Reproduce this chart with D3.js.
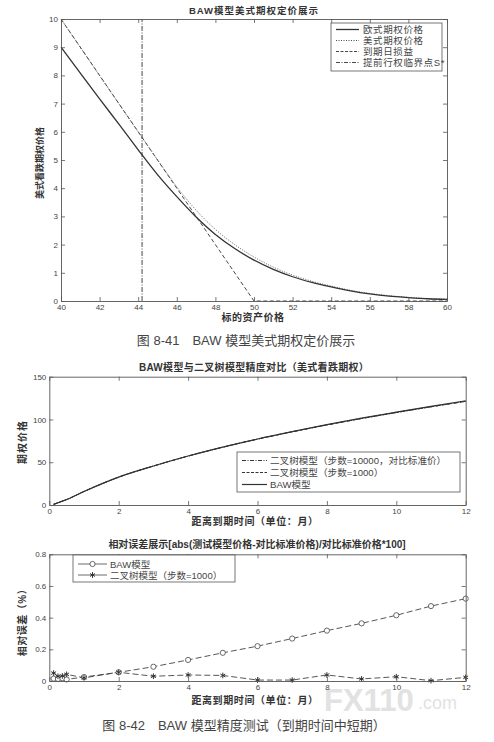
<!DOCTYPE html>
<html>
<head>
<meta charset="utf-8">
<script src="https://cdn.jsdelivr.net/npm/d3@7"></script>
<style>
  body { margin: 0; background: #fff; }
  svg text { font-family: "Liberation Sans", "Noto Sans CJK SC", sans-serif; }
</style>
</head>
<body>
<div id="chart-area"></div>
<script>
// ---- data ----
// fig 8-41
var spotPrices = [40,41,42,43,44,44.2,45,46,47,48,49,50,51,52,53,54,55,56,57,58,59,60];
var europeanPut = [9.00,8.08,7.17,6.27,5.36,5.18,4.48,3.70,2.98,2.36,1.86,1.45,1.12,0.86,0.66,0.50,0.36,0.25,0.17,0.12,0.08,0.06];
var americanSpot = [40,44.2,45,46,47,48,49,50,51,52,53,54,55,56,57,58,59,60];
var americanPut = [10,5.80,5.01,4.05,3.22,2.54,2.00,1.56,1.20,0.92,0.70,0.53,0.38,0.27,0.19,0.13,0.09,0.06];
var payoffSpot = [40,50,60];
var payoffValue = [10,0,0];
var criticalPrice = 44.2;
var spotTicks = [40,42,44,46,48,50,52,54,56,58,60];
var putTicks = [0,1,2,3,4,5,6,7,8,9,10];

// fig 8-42 (months to expiry)
var maturities = [0.125,0.25,0.375,0.5,1,2,3,4,5,6,7,8,9,10,11,12];
var priceBin10000 = [0.8,2.6,4.5,6.4,15.8,32.6,45.5,57.2,67.6,77.0,85.6,93.6,101.1,108.1,114.8,121.2];
var priceBin1000 = [0.8,2.6,4.5,6.4,15.8,32.6,45.5,57.2,67.6,77.0,85.6,93.6,101.1,108.1,114.8,121.2];
var priceBAW = [0.8,2.6,4.5,6.4,15.8,32.6,45.6,57.3,67.7,77.2,85.8,93.9,101.5,108.5,115.3,121.8];
var errBAW = [0.015,0.013,0.018,0.010,0.025,0.055,0.090,0.133,0.178,0.220,0.268,0.318,0.364,0.415,0.473,0.520];
var errBin1000 = [0.050,0.030,0.032,0.042,0.020,0.055,0.030,0.038,0.035,0.006,0.006,0.038,0.013,0.027,0.002,0.023];
var monthTicks = [0,2,4,6,8,10,12];
var priceTicks = [0,50,100,150];
var errTicks = [0,0.2,0.4,0.6,0.8];

var W = 494, H = 742;
var ink = "#333", axisInk = "#555";

var svg = d3.select("#chart-area").append("svg")
  .attr("width", W)
  .attr("height", H);

// MATLAB style box with inward ticks on all four sides
function drawBox(x, y, xt, yt, xf, yf) {
  var r = x.range(), b = y.range();
  var g = svg.append("g");
  g.append("g").attr("transform", "translate(0," + b[0] + ")")
    .call(d3.axisBottom(x).tickValues(xt).tickSize(-4).tickSizeOuter(0).tickPadding(3).tickFormat(xf));
  g.append("g").attr("transform", "translate(0," + b[1] + ")")
    .call(d3.axisTop(x).tickValues(xt).tickSize(-4).tickSizeOuter(0).tickFormat(""));
  g.append("g").attr("transform", "translate(" + r[0] + ",0)")
    .call(d3.axisLeft(y).tickValues(yt).tickSize(-4).tickSizeOuter(0).tickPadding(3).tickFormat(yf));
  g.append("g").attr("transform", "translate(" + r[1] + ",0)")
    .call(d3.axisRight(y).tickValues(yt).tickSize(-4).tickSizeOuter(0).tickFormat(""));
  g.selectAll("path.domain").attr("stroke", axisInk).attr("stroke-width", 0.9);
  g.selectAll(".tick line").attr("stroke", axisInk).attr("stroke-width", 0.8);
  g.selectAll(".tick text").attr("font-size", 8).attr("fill", "#444")
    .attr("font-family", "Liberation Sans");
  return g;
}

function label(txt, x, y, size, opts) {
  opts = opts || {};
  var t = svg.append("text")
    .attr("x", x).attr("y", y)
    .attr("text-anchor", opts.anchor || "middle")
    .attr("dominant-baseline", "central")
    .attr("font-size", size)
    .attr("font-weight", opts.weight || "bold")
    .attr("fill", opts.fill || ink)
    .text(txt);
  if (opts.rotate) t.attr("transform", "rotate(-90," + x + "," + y + ")");
  if (opts.family) t.attr("font-family", opts.family);
  if (opts.spacing) t.attr("letter-spacing", opts.spacing);
  return t;
}

function legendBox(x0, y0, x1, y1) {
  svg.append("rect").attr("x", x0).attr("y", y0)
    .attr("width", x1 - x0).attr("height", y1 - y0)
    .attr("fill", "#fff").attr("stroke", axisInk).attr("stroke-width", 0.8);
}

// watermark sits under the chart text
svg.append("text").attr("x", 324).attr("y", 711)
  .attr("font-size", 31).attr("font-weight", "bold").attr("fill", "#ddd").attr("opacity", 0.85)
  .attr("font-family", "Liberation Sans").text("FX110");
svg.append("text").attr("x", 418).attr("y", 709)
  .attr("font-size", 18).attr("fill", "#ddd").attr("opacity", 0.85)
  .attr("font-family", "Liberation Sans").text(".com");

// ================= fig 8-41 =================
var x1 = d3.scaleLinear().domain([40, 60]).range([61, 447]);
var y1 = d3.scaleLinear().domain([0, 10]).range([301, 19]);

var euroLine = d3.line().x(function(d, i){ return x1(spotPrices[i]); })
  .y(function(d){ return y1(d); }).curve(d3.curveMonotoneX);
var amerLine = d3.line().x(function(d, i){ return x1(americanSpot[i]); })
  .y(function(d){ return y1(d); }).curve(d3.curveMonotoneX);
var payLine = d3.line().x(function(d, i){ return x1(payoffSpot[i]); })
  .y(function(d){ return y1(d); });

svg.append("path").datum(payoffValue).attr("d", payLine)
  .attr("fill", "none").attr("stroke", ink).attr("stroke-width", 0.9).attr("stroke-dasharray", "4,2.5");
svg.append("path").datum(americanPut).attr("d", amerLine)
  .attr("fill", "none").attr("stroke", "#555").attr("stroke-width", 0.9).attr("stroke-dasharray", "1,1.5");
svg.append("path").datum(europeanPut).attr("d", euroLine)
  .attr("fill", "none").attr("stroke", ink).attr("stroke-width", 1.3);
svg.append("line")
  .attr("x1", x1(criticalPrice)).attr("x2", x1(criticalPrice))
  .attr("y1", y1(0)).attr("y2", y1(10))
  .attr("stroke", ink).attr("stroke-width", 0.9).attr("stroke-dasharray", "5,1.5,1,1.5");

drawBox(x1, y1, spotTicks, putTicks, d3.format("d"), d3.format("d"));

label("BAW模型美式期权定价展示", 254, 10, 9.5, {spacing: 1});
label("标的资产价格", 253, 317, 10, {spacing: 0.5});
label("美式看跌期权价格", 40, 163, 9, {rotate: true});

legendBox(331, 23, 442, 71);
var leg1 = [
  {t: "欧式期权价格", dash: null, w: 1.3},
  {t: "美式期权价格", dash: "1,1.5", w: 0.9},
  {t: "到期日损益", dash: "3,1.5", w: 0.9},
  {t: "提前行权临界点S*", dash: "4,1.5,1,1.5", w: 0.9}
];
leg1.forEach(function(d, i) {
  var yy = 29.5 + i * 11;
  svg.append("line").attr("x1", 336).attr("x2", 359).attr("y1", yy).attr("y2", yy)
    .attr("stroke", ink).attr("stroke-width", d.w).attr("stroke-dasharray", d.dash);
  label(d.t, 363, yy, 9.5, {anchor: "start", weight: "normal", fill: "#444", spacing: 0.6});
});

label("图 8-41\u3000BAW 模型美式期权定价展示", 246, 340, 13,
  {weight: "normal", fill: "#444", family: "Liberation Serif, Noto Sans CJK SC"});

// ================= fig 8-42 top =================
var x2 = d3.scaleLinear().domain([0, 12]).range([49.3, 465.7]);
var y2 = d3.scaleLinear().domain([0, 150]).range([505, 376.7]);

function priceLine(arr) {
  return d3.line().x(function(d, i){ return x2(maturities[i]); })
    .y(function(d){ return y2(d); }).curve(d3.curveMonotoneX)(arr);
}
svg.append("path").attr("d", priceLine(priceBin10000))
  .attr("fill", "none").attr("stroke", ink).attr("stroke-width", 1).attr("stroke-dasharray", "5,1.5,1,1.5");
svg.append("path").attr("d", priceLine(priceBin1000))
  .attr("fill", "none").attr("stroke", ink).attr("stroke-width", 1).attr("stroke-dasharray", "4,2");
svg.append("path").attr("d", priceLine(priceBAW))
  .attr("fill", "none").attr("stroke", ink).attr("stroke-width", 1.2);

drawBox(x2, y2, monthTicks, priceTicks, d3.format("d"), d3.format("d"));

label("BAW模型与二叉树模型精度对比（美式看跌期权）", 254, 367.5, 10, {spacing: 0.3});
label("距离到期时间（单位：月）", 255, 521, 10, {spacing: 0.6});
label("期权价格", 22, 442, 10, {rotate: true, spacing: 1});

legendBox(237, 452, 460, 492);
var leg2 = [
  {t: "二叉树模型（步数=10000，对比标准价）", dash: "4,1.5,1,1.5", w: 1},
  {t: "二叉树模型（步数=1000）", dash: "3,1.5", w: 1},
  {t: "BAW模型", dash: null, w: 1.2}
];
leg2.forEach(function(d, i) {
  var yy = 460.5 + i * 12;
  svg.append("line").attr("x1", 242).attr("x2", 267).attr("y1", yy).attr("y2", yy)
    .attr("stroke", ink).attr("stroke-width", d.w).attr("stroke-dasharray", d.dash);
  label(d.t, 270, yy, 9.6, {anchor: "start", weight: "normal", fill: "#444"});
});

// ================= fig 8-42 bottom =================
var y3 = d3.scaleLinear().domain([0, 0.8]).range([681, 554.3]);

function errLine(arr) {
  return d3.line().x(function(d, i){ return x2(maturities[i]); })
    .y(function(d){ return y3(d); })(arr);
}
svg.append("path").attr("d", errLine(errBAW))
  .attr("fill", "none").attr("stroke", "#444").attr("stroke-width", 0.9).attr("stroke-dasharray", "6,3");
svg.append("path").attr("d", errLine(errBin1000))
  .attr("fill", "none").attr("stroke", "#444").attr("stroke-width", 0.9).attr("stroke-dasharray", "6,3");

var star = d3.symbol().type(d3.symbolAsterisk).size(22);
svg.selectAll("circle.baw").data(errBAW).enter().append("circle")
  .attr("class", "baw")
  .attr("cx", function(d, i){ return x2(maturities[i]); })
  .attr("cy", function(d){ return y3(d); })
  .attr("r", 2.6)
  .attr("fill", "#fff").attr("stroke", "#444").attr("stroke-width", 0.8);
svg.selectAll("path.bin").data(errBin1000).enter().append("path")
  .attr("class", "bin")
  .attr("d", star)
  .attr("transform", function(d, i){ return "translate(" + x2(maturities[i]) + "," + y3(d) + ")"; })
  .attr("fill", "none").attr("stroke", "#333").attr("stroke-width", 1);

drawBox(x2, y3, monthTicks, errTicks, d3.format("d"), d3.format(".1f"));
// MATLAB shows 0 not 0.0
svg.selectAll("text").filter(function(){ return this.textContent === "0.0"; }).text("0");

label("相对误差展示[abs(测试模型价格-对比标准价格)/对比标准价格*100]", 257, 544.5, 10);
label("距离到期时间（单位：月）", 255, 700, 10, {spacing: 0.6});
label("相对误差（%）", 22, 620, 10, {rotate: true, spacing: 0.5});

legendBox(73, 555, 235, 582);
svg.append("line").attr("x1", 78).attr("x2", 107).attr("y1", 564).attr("y2", 564)
  .attr("stroke", "#444").attr("stroke-width", 0.8);
svg.append("circle").attr("cx", 92.5).attr("cy", 564).attr("r", 2.6)
  .attr("fill", "#fff").attr("stroke", "#444").attr("stroke-width", 0.8);
label("BAW模型", 110, 564, 9.5, {anchor: "start", weight: "normal", fill: "#444"});
svg.append("line").attr("x1", 78).attr("x2", 107).attr("y1", 575).attr("y2", 575)
  .attr("stroke", "#444").attr("stroke-width", 0.8);
svg.append("path").attr("d", star)
  .attr("transform", "translate(92.5,575)")
  .attr("fill", "none").attr("stroke", "#333").attr("stroke-width", 1);
label("二叉树模型（步数=1000）", 110, 575, 9.5, {anchor: "start", weight: "normal", fill: "#444"});

label("图 8-42\u3000BAW 模型精度测试（到期时间中短期）", 244, 725, 13,
  {weight: "normal", fill: "#444", family: "Liberation Serif, Noto Sans CJK SC"});
</script>
</body>
</html>
